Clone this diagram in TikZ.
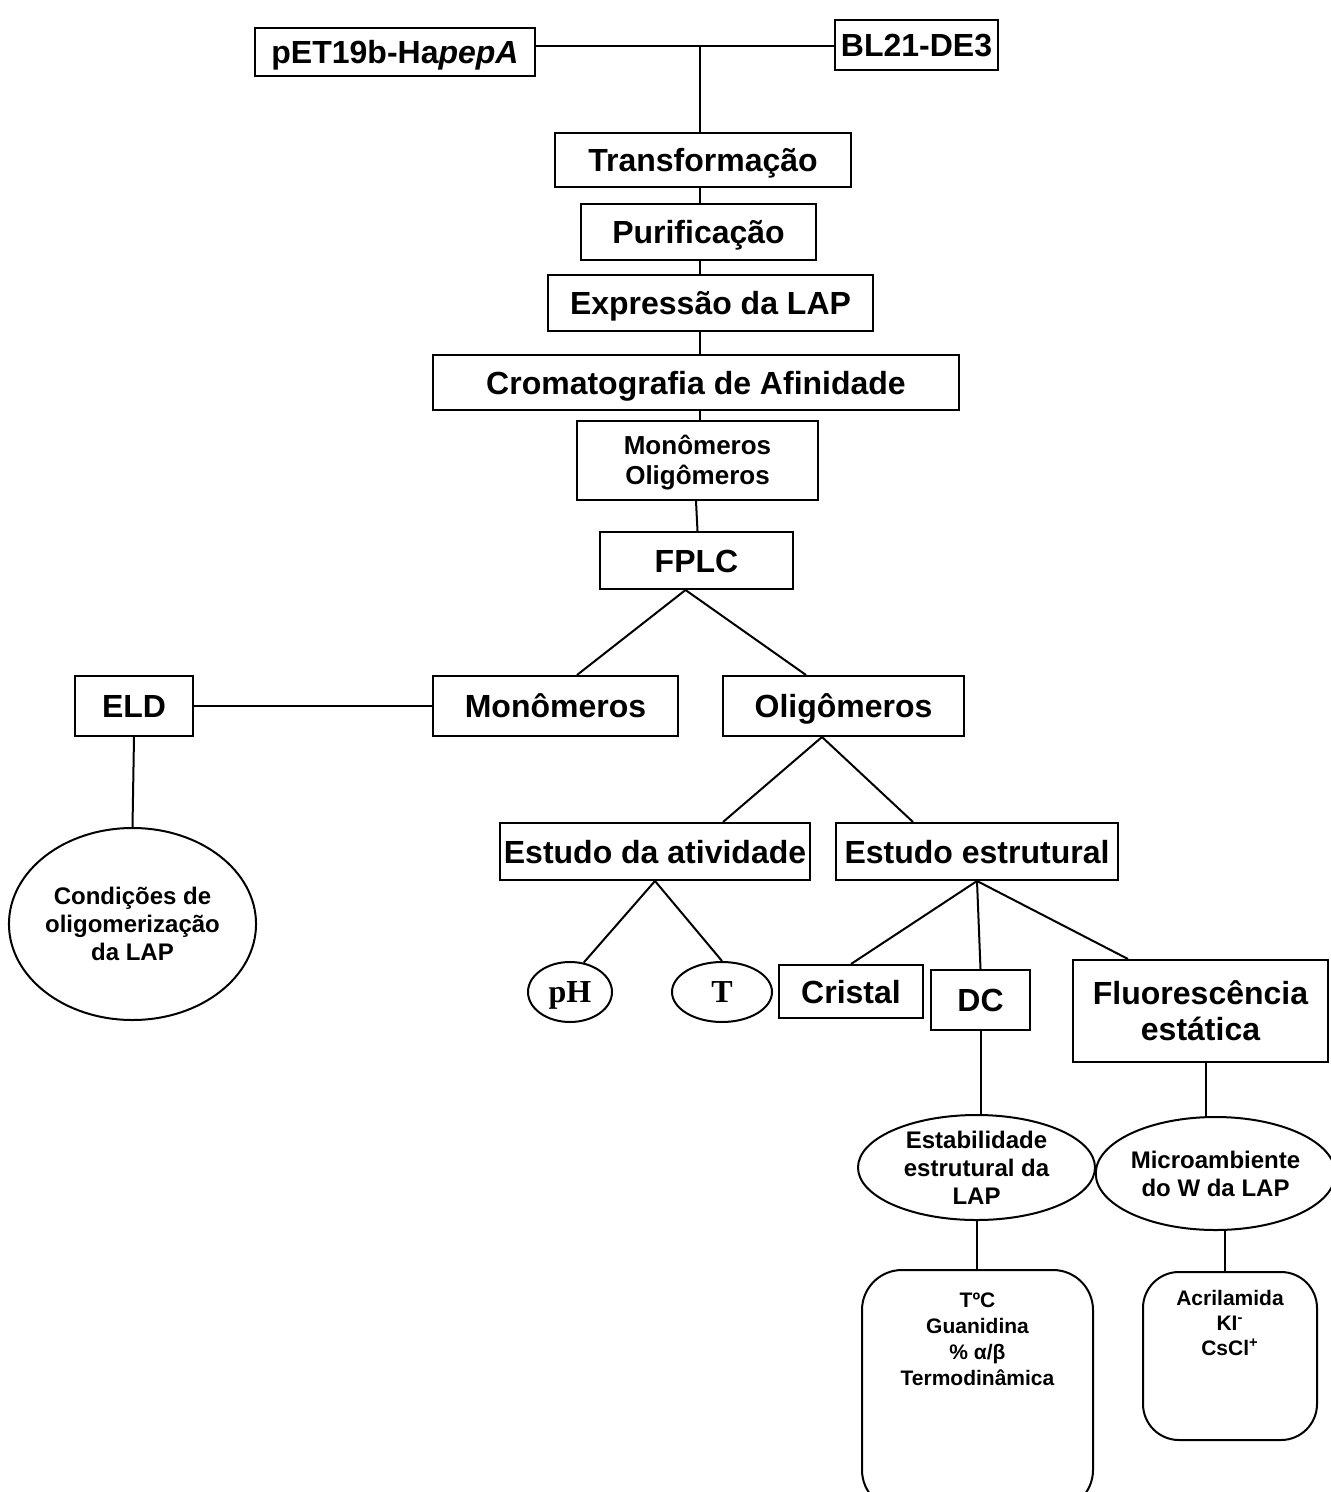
\documentclass[tikz,border=0pt]{standalone}
\usepackage{fontspec}
\setmainfont{Liberation Sans}
\newfontfamily\serifb{Liberation Serif}
\usetikzlibrary{shapes.geometric}
\begin{document}
\begin{tikzpicture}[x=0.5pt,y=-0.5pt,line width=1pt,
  bx/.style={draw,rectangle,inner sep=0pt,align=center,font=\fontsize{16}{18}\selectfont\bfseries},
  one/.style={text height=11.5pt,text depth=0pt},
  ov/.style={draw,ellipse,inner sep=0pt,align=center,font=\fontsize{12}{14}\selectfont\bfseries},
  sov/.style={draw,ellipse,inner sep=0pt,text height=10.5pt,text depth=0pt,font=\fontsize{16}{18}\selectfont\serifb\bfseries},
  rbx/.style={draw,rectangle,inner sep=0pt,rounded corners=#1},
  rlab/.style={anchor=north,align=center,font=\fontsize{10.5}{13}\selectfont\bfseries}]
\useasboundingbox (0,0) rectangle (1331,1492);
\clip (0,0) rectangle (1331,1492);
\fill[white] (0,0) rectangle (1331,1492);
% boxes
\node[bx,one,minimum width=140pt,minimum height=24pt] (pet) at (395,52) {pET19b-Ha\textit{pepA}};
\node[bx,one,minimum width=81.5pt,minimum height=25pt] (bl) at (916.5,45) {BL21-DE3};
\node[bx,one,minimum width=148pt,minimum height=27pt] (tr) at (703,160) {Transformação};
\node[bx,one,minimum width=117.5pt,minimum height=28pt] (pu) at (698.5,232) {Purificação};
\node[bx,one,minimum width=162.5pt,minimum height=28pt] (ex) at (710.5,303) {Expressão da LAP};
\node[bx,one,minimum width=263pt,minimum height=27.5pt] (cr) at (696,382.5) {Cromatografia de Afinidade};
\node[bx,minimum width=120.5pt,minimum height=39.5pt,text height=24pt,text depth=0pt,font=\fontsize{13}{15}\selectfont\bfseries] (mo) at (697.5,460.5) {Monômeros\\Oligômeros};
\node[bx,one,minimum width=96.5pt,minimum height=28.5pt] (fp) at (696.5,560.5) {FPLC};
\node[bx,one,minimum width=59pt,minimum height=30pt] (eld) at (134,706) {ELD};
\node[bx,one,minimum width=122.5pt,minimum height=30pt] (mon) at (555.5,706) {Monômeros};
\node[bx,one,minimum width=120.5pt,minimum height=30pt] (oli) at (843.5,706) {Oligômeros};
\node[bx,one,minimum width=155pt,minimum height=28.5pt] (ea) at (655,851.5) {Estudo da atividade};
\node[bx,one,minimum width=141pt,minimum height=28.5pt] (ee) at (977,851.5) {Estudo estrutural};
\node[bx,one,minimum width=72pt,minimum height=26.5pt,yshift=0pt] (cri) at (851,991.5) {Cristal};
\node[bx,one,minimum width=49.5pt,minimum height=30pt] (dc) at (980.5,1000) {DC};
\node[bx,minimum width=127.5pt,minimum height=51pt] (fl) at (1200.5,1011) {Fluorescência\\estática};
% ellipses
\node[ov,minimum width=120.5pt,minimum height=96pt] (cond) at (132.5,924) {Condições de\\oligomerização\\da LAP};
\node[sov,minimum width=42pt,minimum height=30pt] (ph) at (570,992) {pH};
\node[sov,minimum width=50pt,minimum height=30pt] (t) at (722,992) {T};
\node[ov,minimum width=118.5pt,minimum height=52.5pt] (est) at (976.5,1167.5) {Estabilidade\\estrutural da\\LAP};
\node[ov,minimum width=117.5pt,minimum height=56.5pt] (mic) at (1215.5,1173.5) {Microambiente\\do W da LAP};
% rounded boxes
\node[rbx=20pt,minimum width=115.5pt,minimum height=120pt,
  label={[rlab,yshift=-8pt]north:{TºC\\Guanidina\\\% α/β\\Termodinâmica}}] (rb1) at (977.5,1390) {};
\node[rbx=18pt,minimum width=87pt,minimum height=84pt,
  label={[rlab,yshift=-6pt,font=\fontsize{10.5}{12.5}\selectfont\bfseries]north:{Acrilamida\\KI\textsuperscript{-}\\CsCl\textsuperscript{+}}}] (rb2) at (1230,1356) {};
% connectors
\coordinate (j) at (700,46);
\draw (pet.east|-j) -- (bl.west|-j);
\draw (j) -- (j|-tr.north);
\draw (j|-tr.south) -- (j|-pu.north);
\draw (j|-pu.south) -- (j|-ex.north);
\draw (j|-ex.south) -- (j|-cr.north);
\draw (j|-cr.south) -- (j|-mo.north);
\draw ([xshift=-0.75pt]mo.south) -- ([xshift=0.5pt]fp.north);
\draw ([xshift=-5.5pt]fp.south) -- ([xshift=10.75pt]mon.north);
\draw ([xshift=-5.5pt]fp.south) -- ([xshift=-18.75pt]oli.north);
\draw (eld.east) -- (mon.west);
\draw (eld.south) -- (cond.north);
\draw ([xshift=-10.75pt]oli.south) -- ([xshift=34pt]ea.north);
\draw ([xshift=-10.75pt]oli.south) -- ([xshift=-32pt]ee.north);
\draw (ea.south) -- (ph.65);
\draw (ea.south) -- (t.north);
\draw (ee.south) -- (cri.north);
\draw (ee.south) -- (dc.north);
\draw (ee.south) -- ([xshift=-36.25pt]fl.north);
\draw (dc.south) -- (dc.south|-est.north);
\draw ([xshift=2.75pt]fl.south) -- ([xshift=2.75pt]fl.south|-mic.north);
\draw (est.south) -- (est.south|-rb1.north);
\draw ([xshift=-2.5pt]rb2.north) -- ([xshift=-2.5pt]rb2.north|-mic.south);
\end{tikzpicture}
\end{document}
